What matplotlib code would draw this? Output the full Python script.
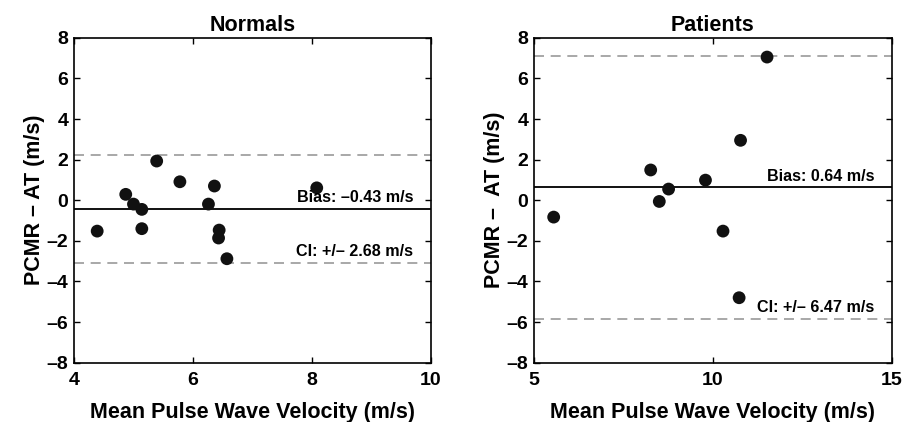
import matplotlib
matplotlib.use("Agg")
import matplotlib.pyplot as plt
import numpy as np

plt.rcParams['font.family'] = ['Liberation Sans', 'DejaVu Sans']
plt.rcParams['font.weight'] = 'bold'

# Normals
norm_x = [4.39, 4.87, 5.00, 5.14, 5.14, 5.39, 5.78, 6.26, 6.36, 6.44, 6.43, 6.57, 8.08]
norm_y = [-1.52, 0.29, -0.19, -0.45, -1.40, 1.93, 0.91, -0.19, 0.70, -1.47, -1.86, -2.88, 0.61]
norm_bias = -0.43
norm_ci = 2.68

# Patients
pat_x = [5.55, 8.26, 8.50, 8.76, 9.79, 10.28, 10.77, 10.73, 11.51]
pat_y = [-0.83, 1.49, -0.06, 0.55, 0.99, -1.52, 2.95, -4.80, 7.05]
pat_bias = 0.64
pat_ci = 6.47

yticks = [-8, -6, -4, -2, 0, 2, 4, 6, 8]
norm_xticks = [4, 6, 8, 10]
pat_xticks = [5, 10, 15]

def fmt(v):
    return str(v).replace('-', '\u2013')

fig = plt.figure(figsize=(9.1, 4.22), dpi=100)
ax1 = fig.add_axes([0.0813, 0.1405, 0.3923, 0.770])
ax2 = fig.add_axes([0.5868, 0.1405, 0.3934, 0.770])

def panel(ax, x, y, bias, ci, xticks, title, ylabel, bias_lbl, ci_lbl, txt_x):
    ax.scatter(x, y, s=85, color='#111111', zorder=3, edgecolors='none')
    ax.axhline(bias, color='#111111', lw=1.4, zorder=2)
    ax.axhline(bias + ci, color='#999999', lw=1.2, ls=(0, (6, 4)), zorder=1)
    ax.axhline(bias - ci, color='#999999', lw=1.2, ls=(0, (6, 4)), zorder=1)
    ax.set_xlim(xticks[0], xticks[-1])
    ax.set_ylim(-8, 8)
    ax.set_xticks(xticks)
    ax.set_xticklabels([fmt(t) for t in xticks])
    ax.set_yticks(yticks)
    ax.set_yticklabels([fmt(t) for t in yticks])
    ax.tick_params(direction='in', top=True, right=True, length=4, width=1,
                   labelsize=14)
    ax.tick_params(axis='x', pad=7)
    ax.tick_params(axis='y', pad=4)
    for lbl in ax.get_xticklabels() + ax.get_yticklabels():
        lbl.set_fontweight('bold')
    for sp in ax.spines.values():
        sp.set_linewidth(1.2)
    ax.set_title(title, fontsize=15.5, fontweight='bold', pad=5)
    ax.set_xlabel('Mean Pulse Wave Velocity (m/s)', fontsize=15.5, fontweight='bold', labelpad=9)
    ax.set_ylabel(ylabel, fontsize=15.5, fontweight='bold', labelpad=1)
    ax.text(txt_x, bias + 0.18, bias_lbl, ha='right', va='bottom', fontsize=11.6, fontweight='bold')
    ax.text(txt_x, bias - ci + 0.2, ci_lbl, ha='right', va='bottom', fontsize=11.6, fontweight='bold')

panel(ax1, norm_x, norm_y, norm_bias, norm_ci, norm_xticks, 'Normals',
      'PCMR \u2013 AT (m/s)', 'Bias: \u20130.43 m/s', 'CI: +/\u2013 2.68 m/s', 9.7)
panel(ax2, pat_x, pat_y, pat_bias, pat_ci, pat_xticks, 'Patients',
      'PCMR \u2013  AT (m/s)', 'Bias: 0.64 m/s', 'CI: +/\u2013 6.47 m/s', 14.5)

fig.savefig('out.png', dpi=100)
